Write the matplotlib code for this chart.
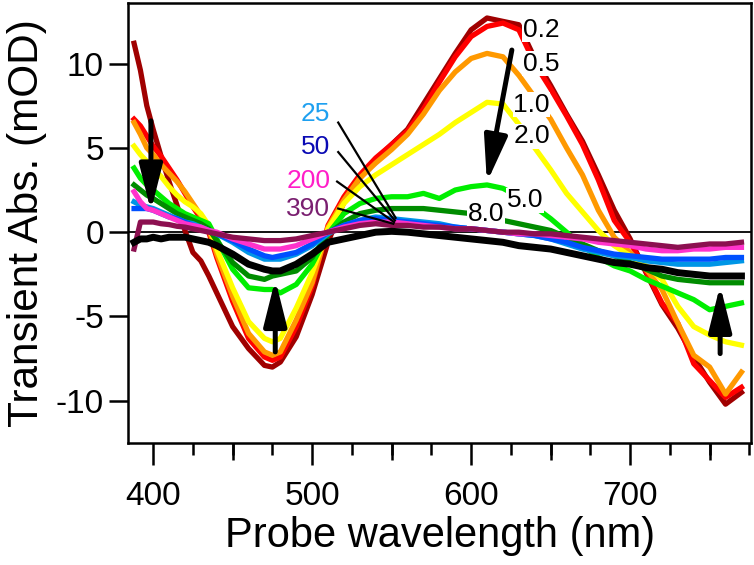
import matplotlib
matplotlib.use('Agg')
import numpy as np
import matplotlib.pyplot as plt
from matplotlib.ticker import MultipleLocator

plt.rcParams['font.family'] = ['Liberation Sans', 'DejaVu Sans']
plt.rcParams['axes.unicode_minus'] = False

# --- data (mOD vs probe wavelength, nm) ---
wavelength = [388, 392, 396, 400, 405, 410, 415, 420, 425, 430, 435, 440,
              450, 460, 470, 475, 480, 490, 500, 510, 520, 530, 540, 550,
              560, 570, 580, 590, 600, 610, 620, 630, 640, 650, 660, 670,
              680, 690, 700, 710, 720, 730, 740, 750, 760, 770]

ps_0_2 = [11.2, 9.6, 7.5, 6.1, 4.5, 3.0, 1.6, 0.1, -1.2, -1.7, -2.6, -3.6,
          -5.6, -6.9, -7.9, -8.0, -7.7, -6.2, -3.7, -0.6, 1.8, 3.2, 4.3, 5.2,
          6.1, 7.6, 9.1, 10.6, 12.0, 12.7, 12.5, 12.3, 10.3, 8.7, 7.0, 5.4,
          3.4, 1.3, -0.4, -2.4, -4.3, -5.7, -7.4, -8.9, -10.2, -9.5]
ps_0_5 = [6.7, 6.3, 5.7, 5.1, 4.5, 3.8, 3.1, 2.3, 1.5, 0.8, 0.0, -1.5,
          -4.1, -6.3, -7.4, -7.6, -7.4, -5.6, -3.2, 0.4, 2.1, 3.4, 4.4, 5.2,
          6.0, 7.3, 8.9, 10.4, 11.6, 12.2, 12.4, 12.0, 10.0, 8.5, 6.9, 5.2,
          3.1, 0.7, -0.6, -2.3, -4.2, -5.4, -7.8, -8.8, -9.8, -9.2]
ps_1_0 = [6.5, 5.8, 5.0, 4.6, 4.0, 3.5, 3.0, 2.4, 1.7, 1.0, 0.2, -1.3,
          -3.8, -6.0, -7.1, -7.3, -7.1, -5.2, -3.0, 0.3, 1.9, 3.2, 4.1, 4.9,
          5.8, 7.0, 8.4, 9.5, 10.3, 10.6, 10.4, 9.3, 8.0, 6.7, 5.0, 3.4,
          1.3, -0.3, -1.2, -2.2, -3.4, -5.4, -7.3, -8.0, -9.6, -8.3]
ps_2_0 = [5.1, 4.6, 4.2, 3.8, 3.3, 2.7, 2.2, 1.8, 1.5, 1.1, 0.4, -1.0,
          -3.3, -5.3, -6.3, -6.5, -6.3, -4.5, -2.4, 0.2, 1.7, 2.7, 3.4, 4.0,
          4.6, 5.2, 5.8, 6.5, 7.1, 7.7, 7.6, 6.4, 5.0, 3.7, 2.3, 1.2,
          0.1, -0.8, -1.4, -2.0, -2.8, -4.4, -5.6, -6.1, -6.5, -6.7]
ps_5_0 = [3.8, 3.2, 2.8, 2.5, 2.1, 1.7, 1.4, 1.1, 0.9, 0.7, 0.5, -0.4,
          -2.2, -3.3, -3.4, -3.4, -3.6, -3.1, -1.9, -0.1, 1.1, 1.7, 2.0, 2.1,
          2.1, 2.3, 2.0, 2.5, 2.7, 2.8, 2.6, 2.1, 1.5, 0.8, 0.0, -0.8,
          -1.5, -2.0, -2.3, -2.8, -3.2, -3.6, -4.0, -4.6, -4.4, -4.2]
ps_8_0 = [2.8, 2.5, 2.2, 2.0, 1.7, 1.4, 1.1, 0.9, 0.7, 0.5, 0.2, -0.5,
          -1.8, -2.6, -2.8, -2.6, -2.5, -2.3, -1.5, -0.1, 0.6, 1.1, 1.3, 1.4,
          1.4, 1.4, 1.3, 1.2, 1.1, 0.9, 0.7, 0.5, 0.3, 0.1, -0.3, -0.7,
          -1.1, -1.4, -1.8, -2.2, -2.6, -2.8, -2.9, -3.0, -3.0, -3.0]
ps_25 = [1.8, 1.6, 1.5, 1.4, 1.2, 1.0, 0.8, 0.6, 0.5, 0.3, 0.1, -0.1,
         -0.6, -1.2, -1.6, -1.6, -1.6, -1.3, -0.8, -0.1, 0.4, 0.7, 0.9, 0.8,
         0.7, 0.6, 0.5, 0.3, 0.2, 0.1, 0.0, -0.1, -0.2, -0.4, -0.7, -1.0,
         -1.2, -1.4, -1.5, -1.7, -1.8, -1.9, -1.9, -1.9, -1.8, -1.7]
ps_50 = [1.4, 1.4, 1.4, 1.3, 1.1, 0.9, 0.8, 0.6, 0.4, 0.2, 0.1, -0.1,
         -0.5, -1.0, -1.4, -1.5, -1.4, -1.2, -0.7, 0.0, 0.4, 0.7, 0.8, 0.7,
         0.6, 0.5, 0.4, 0.3, 0.2, 0.1, 0.0, -0.1, -0.2, -0.4, -0.6, -0.9,
         -1.1, -1.3, -1.4, -1.5, -1.6, -1.6, -1.6, -1.6, -1.5, -1.5]
ps_200 = [2.4, 1.8, 1.4, 1.3, 1.1, 0.9, 0.7, 0.5, 0.4, 0.3, 0.1, 0.0,
          -0.4, -0.7, -1.0, -1.0, -1.0, -0.8, -0.4, 0.0, 0.3, 0.5, 0.6, 0.6,
          0.5, 0.4, 0.3, 0.2, 0.2, 0.1, 0.0, -0.1, -0.1, -0.2, -0.3, -0.4,
          -0.6, -0.7, -0.8, -1.0, -1.1, -1.1, -1.0, -1.0, -0.9, -0.9]
ps_390 = [-1.0, 0.6, 0.6, 0.6, 0.5, 0.45, 0.35, 0.3, 0.2, 0.1, 0.0, -0.1,
          -0.3, -0.4, -0.5, -0.5, -0.5, -0.4, -0.2, 0.0, 0.2, 0.4, 0.5, 0.4,
          0.4, 0.3, 0.3, 0.2, 0.2, 0.1, 0.0, 0.0, -0.1, -0.1, -0.2, -0.3,
          -0.4, -0.5, -0.6, -0.7, -0.8, -0.9, -0.8, -0.7, -0.7, -0.6]
ps_final = [-0.6, -0.4, -0.4, -0.3, -0.4, -0.3, -0.3, -0.3, -0.4, -0.5, -0.6, -0.8,
            -1.3, -1.9, -2.2, -2.3, -2.3, -1.9, -1.3, -0.6, -0.4, -0.2, 0.0, 0.05,
            0.0, -0.1, -0.2, -0.3, -0.4, -0.5, -0.6, -0.8, -0.9, -1.0, -1.2, -1.4,
            -1.6, -1.8, -1.9, -2.1, -2.2, -2.4, -2.5, -2.6, -2.6, -2.6]

series = [ps_0_2, ps_0_5, ps_1_0, ps_2_0, ps_5_0, ps_8_0,
          ps_25, ps_50, ps_200, ps_390]
colors = ['#A00000', '#FF0000', '#FF9900', '#FFFF00', '#00EE00', '#008C00',
          '#0096E6', '#0050FF', '#FF33CC', '#8C1050']

# delay labels (ps)
right_labels = ['0.2', '0.5', '1.0', '2.0', '5.0', '8.0']
right_label_pos = [(632.5, 12.0), (632.5, 10.0), (626.5, 7.55),
                   (626.5, 5.7), (622.5, 1.9), (598.0, 1.1)]
left_labels = ['25', '50', '200', '390']
left_label_colors = ['#1EA0F0', '#0A0AB4', '#FF1EC8', '#7A1F70']
left_label_y = [7.0, 5.05, 3.05, 1.35]
pointer_starts = [(516.4, 6.5), (516.4, 4.75), (515.7, 3.0), (516.4, 1.4)]
pointer_ends = [(552.5, 0.85), (552.0, 0.7), (551.5, 0.6), (551.0, 0.5)]

fig = plt.figure(figsize=(7.54, 5.65), dpi=100)
ax = fig.add_axes([0.170, 0.216, 0.826, 0.779])

ax.axhline(0, color='k', lw=1.3, zorder=1)
for vals, c in zip(series, colors):
    ax.plot(wavelength, vals, color=c, lw=3.8, zorder=2)
ax.plot(wavelength, ps_final, color='k', lw=5.0, zorder=3)

# labels on the right
for lab, (x, y) in zip(right_labels, right_label_pos):
    ax.text(x, y, lab, fontsize=19, ha='left', va='center', zorder=6,
            bbox=dict(fc='white', ec='none', pad=0.3))

# labels on the left with pointer lines
for lab, c, y, start, end in zip(left_labels, left_label_colors, left_label_y,
                                 pointer_starts, pointer_ends):
    ax.text(511.5, y, lab, fontsize=19, color=c, ha='right', va='center', zorder=6)
    ax.plot([start[0], end[0]], [start[1], end[1]], color='k', lw=1.6, zorder=5)

# arrows
arrows = [((398.6, 6.6), (398.6, 1.25)),
          ((476.8, -7.1), (476.8, -2.8)),
          ((756.6, -7.2), (756.6, -3.15)),
          ((625.6, 10.8), (609.9, 2.95))]
for tail, tip in arrows:
    ax.annotate('', xy=tip, xytext=tail, zorder=7,
                arrowprops=dict(arrowstyle='-|>,head_length=1.4,head_width=0.35',
                                mutation_scale=20, lw=3.6, color='k',
                                shrinkA=0, shrinkB=0))

ax.set_xlim(384.3, 776)
ax.set_ylim(-12.5, 13.6)

ax.xaxis.set_major_locator(MultipleLocator(100))
ax.xaxis.set_minor_locator(MultipleLocator(25))
ax.yaxis.set_major_locator(MultipleLocator(5))
ax.tick_params(axis='x', which='major', direction='out', length=15.5, width=1.8,
               labelsize=24, pad=12)
ax.tick_params(axis='x', which='minor', direction='out', length=8.5, width=1.8)
ax.tick_params(axis='y', which='major', direction='out', length=13.5, width=1.8,
               labelsize=24, pad=4)

# medium ticks at the 50s
sec = ax.secondary_xaxis('bottom')
sec.set_xticks([450, 550, 650, 750])
sec.set_xticklabels([])
sec.tick_params(axis='x', direction='out', length=12, width=1.8)
sec.spines['bottom'].set_visible(False)

for s in ax.spines.values():
    s.set_linewidth(1.8)

ax.set_xlabel('Probe wavelength (nm)', fontsize=30, labelpad=3)
ax.set_ylabel('Transient Abs. (mOD)', fontsize=30.5, labelpad=6)

plt.savefig('out.png', dpi=100)
plt.close(fig)
